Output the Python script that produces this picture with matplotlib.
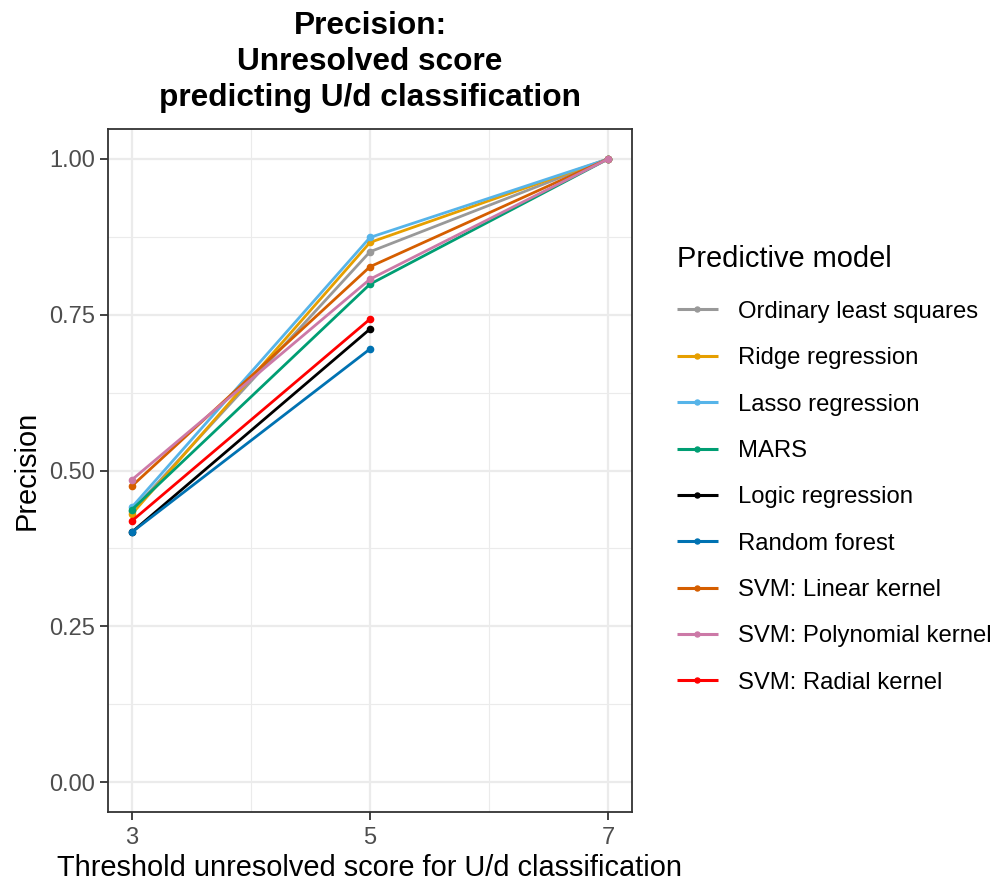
import numpy as np
import matplotlib
matplotlib.use("Agg")
import matplotlib.pyplot as plt
from matplotlib.ticker import FixedLocator, FormatStrFormatter

plt.rcParams['font.family'] = ['Liberation Sans', 'DejaVu Sans']

thresholds = [3, 5, 7]
models = ["Ordinary least squares", "Ridge regression", "Lasso regression", "MARS",
          "Logic regression", "Random forest", "SVM: Linear kernel",
          "SVM: Polynomial kernel", "SVM: Radial kernel"]
colors = ["#999999", "#E69F00", "#56B4E9", "#009E73", "#000000", "#0072B2",
          "#D55E00", "#CC79A7", "#FF0000"]
ols = [0.435, 0.851, 1.0]
ridge = [0.430, 0.866, 1.0]
lasso = [0.441, 0.874, 1.0]
mars = [0.437, 0.799, 1.0]
logic = [0.401, 0.727, np.nan]
rf = [0.401, 0.695, np.nan]
svm_lin = [0.475, 0.827, 1.0]
svm_poly = [0.485, 0.807, 1.0]
svm_rad = [0.419, 0.743, np.nan]
series = [ols, ridge, lasso, mars, logic, rf, svm_lin, svm_poly, svm_rad]

fig = plt.figure(figsize=(9.95, 8.82), dpi=100)
ax = fig.add_axes([108/995, 1-812/882, (632-108)/995, (812-129)/882])

for name, col, vals in zip(models, colors, series):
    ax.plot(thresholds, vals, color=col, lw=2.0, marker='o', ms=4.5, label=name,
            solid_capstyle='butt')

ax.set_xlim(2.8, 7.2)
ax.set_ylim(-0.048, 1.048)
ax.xaxis.set_major_locator(FixedLocator([3, 5, 7]))
ax.xaxis.set_minor_locator(FixedLocator([4, 6]))
ax.yaxis.set_major_locator(FixedLocator([0, 0.25, 0.5, 0.75, 1.0]))
ax.yaxis.set_minor_locator(FixedLocator([0.125, 0.375, 0.625, 0.875]))
ax.yaxis.set_major_formatter(FormatStrFormatter('%.2f'))
ax.grid(which='major', color='#EBEBEB', lw=1.6)
ax.grid(which='minor', color='#EBEBEB', lw=0.8)
ax.set_axisbelow(True)
for s in ax.spines.values():
    s.set_color('#333333')
    s.set_linewidth(1.3)
ax.tick_params(which='major', length=6, width=1.3, color='#333333',
               labelsize=17, labelcolor='#4D4D4D', pad=3)
ax.tick_params(axis='x', which='major', pad=5)
ax.tick_params(which='minor', length=0)

fig.text(370/995, 1-868/882, "Threshold unresolved score for U/d classification",
         ha='center', va='center', fontsize=20.9)
fig.text(27/995, 1-470/882, "Precision", rotation=90, ha='center', va='center',
         fontsize=20.9)
fig.text(370/995, 1-62/882, "Precision:\nUnresolved score\npredicting U/d classification",
         ha='center', va='center', fontsize=22.8, fontweight='bold', linespacing=1.27)

leg = fig.legend(loc='upper left', bbox_to_anchor=(677/995, 1-245/882), frameon=False,
                 fontsize=17.2, title="Predictive model", title_fontsize=20.9,
                 numpoints=1, handlelength=1.7, handletextpad=0.84,
                 labelspacing=1.02, borderaxespad=0, borderpad=0, markerscale=0.8)
leg._legend_box.align = 'left'
leg._legend_box.sep = 20
for h in leg.legend_handles:
    h.set_linewidth(2.2)

fig.savefig("out.png", dpi=100)
